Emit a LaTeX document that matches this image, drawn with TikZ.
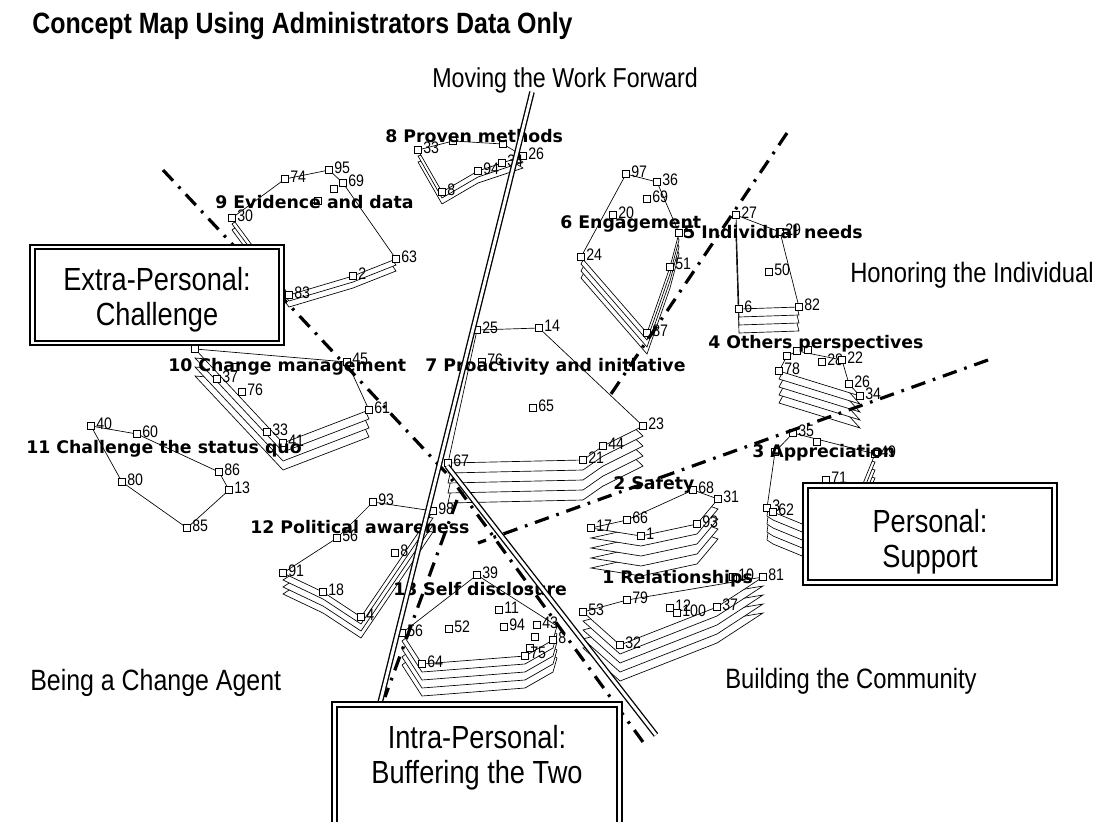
\documentclass[tikz,border=0pt]{standalone}
\usepackage{fontspec}
\setmainfont{Liberation Sans}
\newfontfamily\narrowfont[FakeStretch=0.85]{Liberation Sans}
\newfontfamily\mapfont{DejaVu Sans}
\usetikzlibrary{calc}
\pgfdeclarelayer{back}
\pgfsetlayers{back,main}

\tikzset{
  sq/.style={draw, fill=white, minimum size=5pt, inner sep=0pt, line width=0.5pt},
  num/.style={font=\narrowfont\fontsize{12.5}{12.5}\selectfont, inner sep=1pt, yshift=2pt},
  hull/.style={draw, fill=white, line width=0.5pt},
  clabel/.style={font=\mapfont\bfseries\fontsize{13}{13}\selectfont, anchor=base west, inner sep=0pt},
  region/.style={font=\narrowfont\fontsize{21}{21}\selectfont, anchor=base west, inner sep=0pt},
  axisline/.style={line width=2.4pt, dash pattern=on 11pt off 6pt on 2pt off 6pt},
  divider/.style={double, double distance=2.2pt, line width=1pt},
  quadbox/.style={draw, fill=white, double, double distance=2.2pt, line width=1.5pt, inner sep=0pt},
  boxtext/.style={font=\narrowfont\fontsize{24}{26}\selectfont, align=center, anchor=base, inner sep=0pt}
}

% stacked cluster outline: top layer index, gap, first point, other points
\newcommand{\hullstack}[4]{%
  \foreach \k in {#1,...,0}
    \draw[hull] ($(#3)+(0,#2*\k)$) \foreach \p in {#4} {-- ($(\p)+(0,#2*\k)$)} -- cycle;}

\begin{document}
\begin{tikzpicture}[x=0.75pt, y=-0.75pt]
\useasboundingbox (0,0) rectangle (1101,822);
\begin{pgfonlayer}{back}
  \fill[white] (0,0) rectangle (1101,822);
\end{pgfonlayer}

% statement points of each cluster
\foreach \x/\y/\t [count=\i] in {232/218/30, 285/179/74, 329/170/95, 343/183/69, 334/189/{}, 318/201/{}, 396/259/63, 353/276/2, 289/295/83}
  \node[sq, label={[num]right:\t}] (ev\i) at (\x,\y) {};
\foreach \x/\y/\t [count=\i] in {418/150/33, 453/141/{}, 503/144/{}, 523/156/26, 502/163/34, 478/171/94, 442/192/8}
  \node[sq, label={[num]right:\t}] (pm\i) at (\x,\y) {};
\foreach \x/\y/\t [count=\i] in {626/174/97, 657/182/36, 647/199/69, 613/215/20, 581/257/24, 670/267/51, 647/333/87, 679/233/{}}
  \node[sq, label={[num]right:\t}] (en\i) at (\x,\y) {};
\foreach \x/\y/\t [count=\i] in {736/215/27, 780/232/29, 769/272/50, 799/307/82, 739/309/6, 688/233/{}}
  \node[sq, label={[num]right:\t}] (in\i) at (\x,\y) {};
\foreach \x/\y/\t [count=\i] in {779/371/78, 787/356/{}, 797/351/{}, 808/350/{}, 822/362/28, 842/360/22, 849/384/26, 860/396/34}
  \node[sq, label={[num]right:\t}] (op\i) at (\x,\y) {};
\foreach \x/\y/\t [count=\i] in {775/452/{}, 793/433/35, 817/442/{}, 875/454/49, 826/480/71, 767/508/3, 773/512/62}
  \node[sq, label={[num]right:\t}] (ap\i) at (\x,\y) {};
\coordinate (ap8) at (862,486);
\coordinate (ap9) at (812,528);
\foreach \x/\y/\t [count=\i] in {591/528/17, 627/520/66, 693/490/68, 718/499/31, 697/524/93, 641/536/1}
  \node[sq, label={[num]right:\t}] (sa\i) at (\x,\y) {};
\foreach \x/\y/\t [count=\i] in {583/612/53, 627/600/79, 733/577/10, 763/577/81, 670/608/12, 677/613/100, 717/607/37, 620/645/32}
  \node[sq, label={[num]right:\t}] (re\i) at (\x,\y) {};
\foreach \x/\y/\t [count=\i] in {448/463/67, 477/330/25, 539/328/14, 643/426/23, 603/446/44, 583/460/21, 482/362/76, 533/408/65}
  \node[sq, label={[num]right:\t}] (pr\i) at (\x,\y) {};
\foreach \x/\y/\t [count=\i] in {195/349/{}, 235/367/{}, 217/379/37, 242/392/76, 267/432/33, 283/443/41, 369/410/61, 347/362/45}
  \node[sq, label={[num]right:\t}] (cm\i) at (\x,\y) {};
\foreach \x/\y/\t [count=\i] in {91/426/40, 137/434/60, 219/472/86, 229/490/13, 187/528/85, 122/482/80}
  \node[sq, label={[num]right:\t}] (cs\i) at (\x,\y) {};
\foreach \x/\y/\t [count=\i] in {373/502/93, 433/511/98, 395/553/8, 361/617/4, 323/592/18, 283/573/91, 337/538/56}
  \node[sq, label={[num]right:\t}] (pa\i) at (\x,\y) {};
\foreach \x/\y/\t [count=\i] in {402/633/56, 477/575/39, 499/610/11, 449/629/52, 504/627/94, 537/625/43, 535/637/{}, 530/648/{}, 525/656/75, 553/640/8, 422/664/64}
  \node[sq, label={[num]right:\t}] (sd\i) at (\x,\y) {};
\coordinate (sd12) at (557,626);

% stacked outlines behind the points
\begin{pgfonlayer}{back}
  \hullstack{2}{6}{ev1}{ev2,ev3,ev4,ev7,ev8,ev9}
  \hullstack{2}{6}{pm1}{pm2,pm3,pm4,pm5,pm6,pm7}
  \hullstack{3}{7}{en1}{en2,en8,en6,en7,en5}
  \hullstack{3}{8}{in1}{in2,in4,in5}
  \hullstack{4}{8}{op1}{op2,op3,op6,op7,op8}
  \hullstack{4}{8}{ap6}{ap1,ap2,ap4,ap8,ap9,ap7}
  \hullstack{4}{10}{sa1}{sa2,sa3,sa4,sa5,sa6}
  \hullstack{4}{9}{re1}{re2,re4,re7,re8}
  \hullstack{4}{10}{pr1}{pr2,pr3,pr4,pr5,pr6}
  \hullstack{3}{9}{cm1}{cm8,cm7,cm6}
  \hullstack{0}{0}{cs1}{cs2,cs3,cs4,cs5,cs6}
  \hullstack{3}{7}{pa1}{pa2,pa4,pa5,pa6,pa7}
  \hullstack{4}{8}{sd1}{sd2,sd12,sd10,sd9,sd11}
\end{pgfonlayer}

% cluster names
\node[clabel] (evlab) at (215,208) {9 Evidence and data};
\node[clabel] (pmlab) at (385,142) {8 Proven methods};
\node[clabel] (enlab) at (560,228) {6 Engagement};
\node[clabel] (inlab) at (683,238) {5 Individual needs};
\node[clabel] (oplab) at (708,348) {4 Others perspectives};
\node[clabel] (aplab) at (752,457) {3 Appreciation};
\node[clabel] (salab) at (613,489) {2 Safety};
\node[clabel] (relab) at (602,583) {1 Relationships};
\node[clabel] (prlab) at (425,371) {7 Proactivity and initiative};
\node[clabel] (cmlab) at (168,371) {10 Change management};
\node[clabel] (cslab) at (26,453) {11 Challenge the status quo};
\node[clabel] (palab) at (250,533) {12 Political awareness};
\node[clabel] (sdlab) at (393,595) {13 Self disclosure};

% dash-dot dividers
\coordinate (chtop) at (163,170);
\coordinate (hub) at (450,477);
\coordinate (bufend) at (643,742);
\coordinate (indtop) at (787,133);
\coordinate (indend) at (607,400);
\coordinate (suptop) at (988,360);
\coordinate (supend) at (478,543);
\coordinate (agtop) at (457,500);
\coordinate (agend) at (385,697);
\draw[axisline] (chtop) -- (hub) -- (bufend);
\draw[axisline] (indtop) -- (indend);
\draw[axisline] (suptop) -- (supend);
\draw[axisline] (agtop) -- (agend);

% double dividers
\coordinate (fwdtop) at (532,92);
\coordinate (fwdbot) at (380,703);
\coordinate (comtop) at (447,466);
\coordinate (combot) at (656,735);
\draw[divider] (fwdtop) -- (fwdbot);
\draw[divider] (comtop) -- (combot);

% boxed quadrant names
\node[quadbox, minimum width=187pt, minimum height=72pt] (extra) at (157,295) {};
\node[boxtext] (extratext) at (157,325) {Extra-Personal:\\Challenge};
\node[quadbox, minimum width=187pt, minimum height=73pt] (pers) at (930,534) {};
\node[boxtext] (perstext) at (930,567) {Personal:\\Support};
\node[quadbox, minimum width=214pt, minimum height=98pt] (intra) at (477,770) {};
\node[boxtext] (intratext) at (477,783) {Intra-Personal:\\Buffering the Two};

% region names and title
\node[region, font=\narrowfont\fontsize{20.5}{20.5}\selectfont] (fwd) at (432,87) {Moving the Work Forward};
\node[region] (honor) at (850,282) {Honoring the Individual};
\node[region, font=\narrowfont\fontsize{22}{22}\selectfont] (agent) at (30,690) {Being a Change Agent};
\node[region] (build) at (725,688) {Building the Community};
\node[anchor=base west, inner sep=0pt, font=\narrowfont\bfseries\fontsize{22}{22}\selectfont] (title) at (32,33) {Concept Map Using Administrators Data Only};
\end{tikzpicture}
\end{document}
